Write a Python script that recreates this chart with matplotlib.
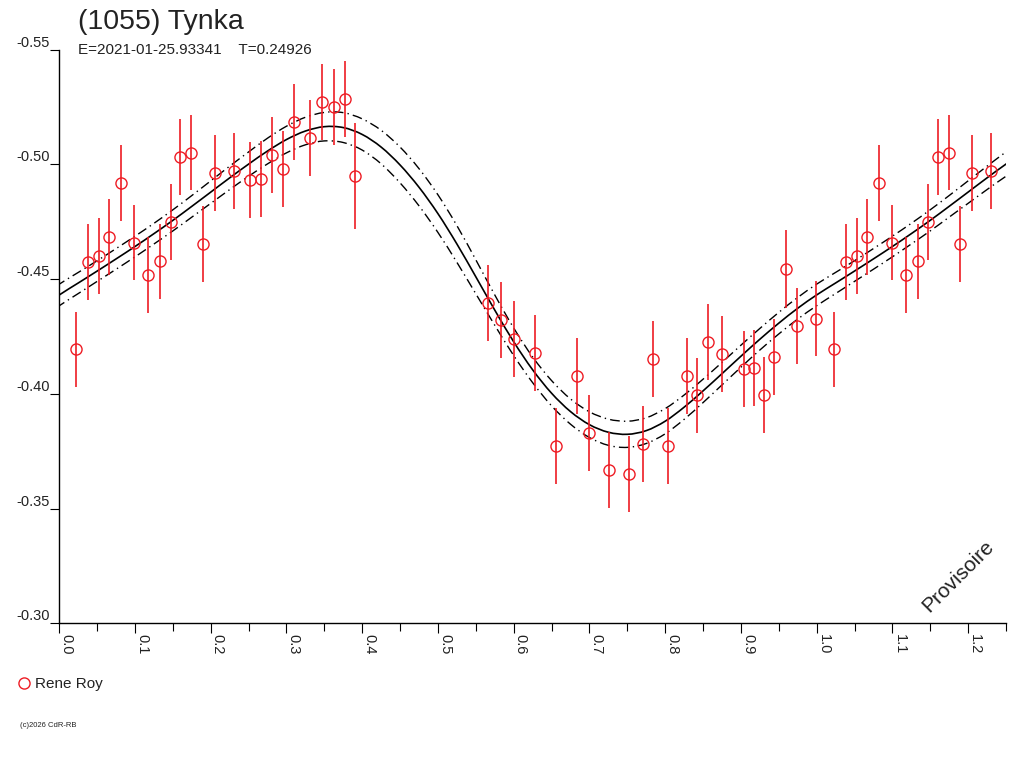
import numpy as np
import matplotlib
matplotlib.use("Agg")
import matplotlib.pyplot as plt
from matplotlib.lines import Line2D
from matplotlib.path import Path
from matplotlib.patches import PathPatch

plt.rcParams['font.family'] = ['Liberation Sans', 'DejaVu Sans']

TITLE = "(1055) Tynka"
SUBTITLE = "E=2021-01-25.93341    T=0.24926"
OBSERVER = "Rene Roy"
STAMP = "Provisoire"
COPYRIGHT = "(c)2026 CdR-RB"

# observations (phase, reduced magnitude, error)
obs_phase = [0.0224, 0.0383, 0.0528, 0.0660, 0.0818, 0.0990, 0.1175, 0.1333,
             0.1471, 0.1597, 0.1743, 0.1897, 0.2051, 0.2306, 0.2520, 0.2669,
             0.2812, 0.2957, 0.3102, 0.3310, 0.3464, 0.3626, 0.3776, 0.3908,
             0.5659, 0.5827, 0.6003, 0.6280, 0.6553, 0.6830, 0.6993, 0.7261,
             0.7525, 0.7706, 0.7834, 0.8040, 0.8290, 0.8425, 0.8568, 0.8745,
             0.9039, 0.9175, 0.9303, 0.9431, 0.9593, 0.9743, 0.9985]
obs_mag = [-0.4194, -0.4576, -0.4602, -0.4682, -0.4920, -0.4659, -0.4517, -0.4577,
           -0.4750, -0.5031, -0.5051, -0.4654, -0.4961, -0.4971, -0.4932, -0.4935,
           -0.5042, -0.4981, -0.5186, -0.5116, -0.5270, -0.5251, -0.5284, -0.4948,
           -0.4397, -0.4322, -0.4239, -0.4178, -0.3774, -0.4079, -0.3830, -0.3669,
           -0.3651, -0.3782, -0.4153, -0.3773, -0.4079, -0.3993, -0.4227, -0.4174,
           -0.4110, -0.4113, -0.3994, -0.4162, -0.4543, -0.4297, -0.4328]
obs_err = [0.0164, 0.0165, 0.0165, 0.0165, 0.0165, 0.0165, 0.0165, 0.0165,
           0.0165, 0.0165, 0.0165, 0.0165, 0.0165, 0.0165, 0.0165, 0.0165,
           0.0165, 0.0165, 0.0165, 0.0165, 0.0165, 0.0165, 0.0165, 0.0231,
           0.0165, 0.0165, 0.0165, 0.0165, 0.0165, 0.0165, 0.0165, 0.0165,
           0.0165, 0.0165, 0.0165, 0.0165, 0.0165, 0.0165, 0.0165, 0.0165,
           0.0165, 0.0165, 0.0165, 0.0165, 0.0170, 0.0165, 0.0165]

# fitted lightcurve, one period
fit_phase = [0.000, 0.025, 0.050, 0.075, 0.100, 0.125, 0.150, 0.175, 0.200, 0.225,
             0.250, 0.275, 0.300, 0.325, 0.350, 0.375, 0.400, 0.425, 0.450, 0.475,
             0.500, 0.525, 0.550, 0.575, 0.600, 0.625, 0.650, 0.675, 0.700, 0.725,
             0.750, 0.775, 0.800, 0.825, 0.850, 0.875, 0.900, 0.925, 0.950, 0.975,
             1.000]
fit_mag = [-0.4431, -0.4483, -0.4535, -0.4588, -0.4642, -0.4698, -0.4756, -0.4817,
           -0.4879, -0.4941, -0.5001, -0.5058, -0.5108, -0.5145, -0.5164, -0.5160,
           -0.5130, -0.5075, -0.4997, -0.4900, -0.4785, -0.4653, -0.4510, -0.4365,
           -0.4227, -0.4105, -0.4003, -0.3923, -0.3866, -0.3833, -0.3824, -0.3840,
           -0.3881, -0.3942, -0.4013, -0.4088, -0.4164, -0.4238, -0.4308, -0.4373,
           -0.4431]
fit_band = [0.0047, 0.0046, 0.0045, 0.0045, 0.0045, 0.0045, 0.0046, 0.0047, 0.0049,
            0.0051, 0.0053, 0.0056, 0.0058, 0.0060, 0.0062, 0.0065, 0.0068, 0.0073,
            0.0078, 0.0081, 0.0082, 0.0080, 0.0074, 0.0066, 0.0060, 0.0056, 0.0055,
            0.0055, 0.0056, 0.0057, 0.0057, 0.0056, 0.0055, 0.0053, 0.0051, 0.0049,
            0.0048, 0.0047, 0.0047, 0.0047, 0.0047]

x_ticks = [0.0, 0.1, 0.2, 0.3, 0.4, 0.5, 0.6, 0.7, 0.8, 0.9, 1.0, 1.1, 1.2]
y_ticks = [-0.55, -0.50, -0.45, -0.40, -0.35, -0.30]

RED = '#ee1c24'
INK = '#222222'
PHASE_MAX = 1.25


def smooth_path(xs, ys):
    # Catmull-Rom through the read values, drawn as cubic Bezier segments
    pts = np.column_stack([xs, ys])
    verts = [pts[0]]
    codes = [Path.MOVETO]
    for i in range(len(pts) - 1):
        p0 = pts[max(i - 1, 0)]
        p1 = pts[i]
        p2 = pts[i + 1]
        p3 = pts[min(i + 2, len(pts) - 1)]
        verts += [p1 + (p2 - p0) / 6.0, p2 - (p3 - p1) / 6.0, p2]
        codes += [Path.CURVE4] * 3
    return Path(verts, codes)


def main():
    ph = np.array(obs_phase)
    mag = np.array(obs_mag)
    err = np.array(obs_err)

    # wrap: phases below 0.25 are shown again after 1.0
    keep = ph + 1.0 <= PHASE_MAX
    ph_all = np.concatenate([ph, ph[keep] + 1.0])
    mag_all = np.concatenate([mag, mag[keep]])
    err_all = np.concatenate([err, err[keep]])

    fp = np.array(fit_phase)
    fm = np.array(fit_mag)
    fb = np.array(fit_band)
    # one period plus wrapped neighbours on both sides (clipped by the axes)
    fp_all = np.concatenate([fp[-2:-1] - 1.0, fp, fp[1:12] + 1.0])
    fm_all = np.concatenate([fm[-2:-1], fm, fm[1:12]])
    fb_all = np.concatenate([fb[-2:-1], fb, fb[1:12]])

    fig = plt.figure(figsize=(10.24, 7.68), dpi=100)
    ax = fig.add_axes([0.0579, 0.1882, 0.9245, 0.7473])

    ax.add_patch(PathPatch(smooth_path(fp_all, fm_all), fill=False,
                           edgecolor='black', lw=1.2))
    dashdot = (0, (7, 3, 1, 3))
    for sign in (-1, 1):
        ax.add_patch(PathPatch(smooth_path(fp_all, fm_all + sign * fb_all), fill=False,
                               edgecolor='black', lw=1.0, linestyle=dashdot))

    ax.errorbar(ph_all, mag_all, yerr=err_all, fmt='none', ecolor=RED,
                elinewidth=1.2, capsize=0)
    ax.plot(ph_all, mag_all, 'o', ms=8, mfc='none', mec=RED, mew=1.0)

    ax.set_xlim(0, PHASE_MAX)
    ax.set_ylim(-0.30, -0.55)

    for side in ['top', 'right']:
        ax.spines[side].set_visible(False)
    for side in ['left', 'bottom']:
        ax.spines[side].set_linewidth(1.0)

    ax.set_xticks(x_ticks)
    ax.set_xticklabels([f"{v:.1f}" for v in x_ticks])
    ax.set_xticks(np.arange(0.05, PHASE_MAX + 0.001, 0.1), minor=True)
    ax.set_yticks(y_ticks)
    ax.set_yticklabels([f"{v:.2f}" for v in y_ticks])

    ax.tick_params(axis='x', which='major', direction='out', length=7.2, width=0.8,
                   pad=0.5, labelsize=10.5, labelcolor=INK)
    ax.tick_params(axis='x', which='minor', direction='out', length=5.8, width=0.8)
    ax.tick_params(axis='y', direction='out', length=6.5, width=0.8, pad=0.5,
                   labelsize=10.5, labelcolor=INK)
    for lbl in ax.get_xticklabels():
        lbl.set_rotation(270)
        lbl.set_ha('left')
        lbl.set_va('top')
    for lbl in ax.get_yticklabels():
        lbl.set_va('bottom')

    fig.text(0.0762, 1 - 29 / 768, TITLE, fontsize=20.5, color=INK, va='baseline')
    fig.text(0.0762, 0.9297, SUBTITLE, fontsize=11, color=INK, va='baseline')

    fig.add_artist(Line2D([0.0234], [1 - 683.3 / 768], marker='o', ms=8, mfc='none',
                          mec=RED, mew=1.0, transform=fig.transFigure))
    fig.text(0.034, 1 - 688 / 768, OBSERVER, fontsize=11, color=INK, va='baseline')
    fig.text(0.0195, 1 - 727 / 768, COPYRIGHT, fontsize=5.5, color=INK, va='baseline')

    fig.text(0.936, 1 - 576 / 768, STAMP, fontsize=15, rotation=45, color=INK,
             ha='center', va='center')

    fig.savefig('out.png', dpi=100)
    plt.close(fig)


if __name__ == "__main__":
    main()
